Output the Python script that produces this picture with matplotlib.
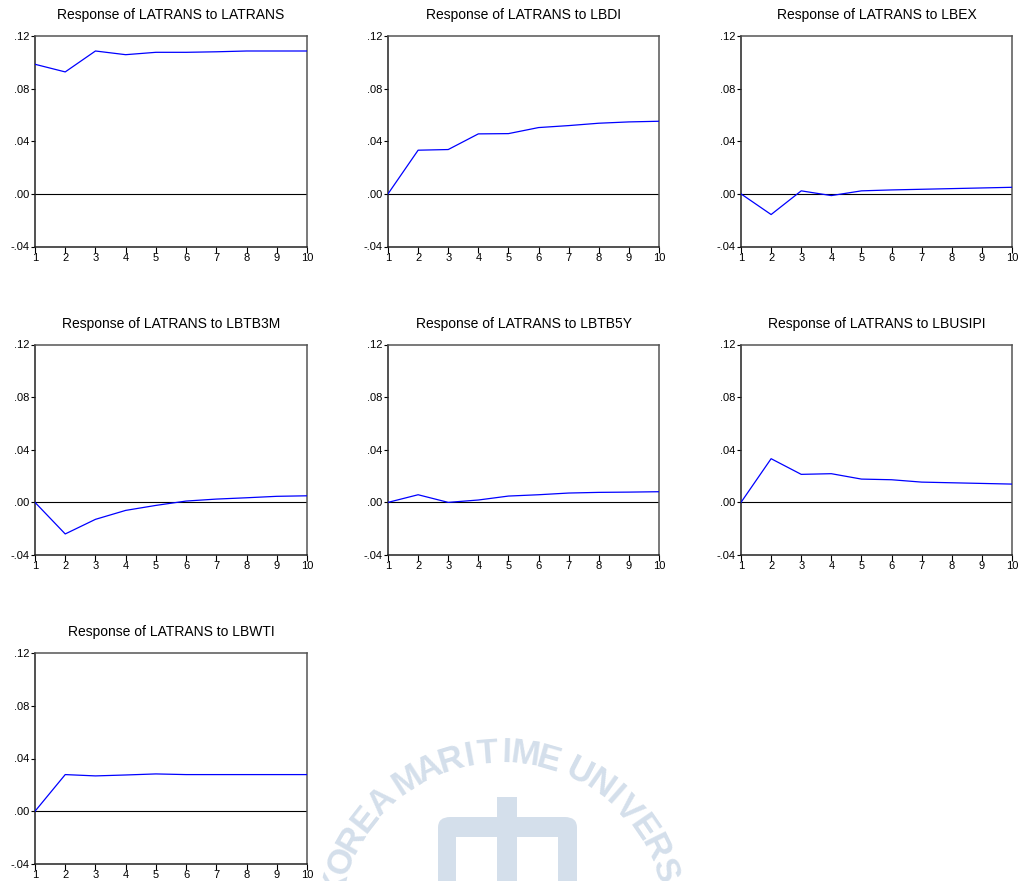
import numpy as np
import matplotlib
matplotlib.use('Agg')
import matplotlib.pyplot as plt
from matplotlib.patches import FancyBboxPatch, Rectangle

plt.rcParams['font.family'] = ['Liberation Sans', 'DejaVu Sans']

# impulse responses of LATRANS, periods 1..10
periods = np.arange(1, 11)
shocks = ["LATRANS", "LBDI", "LBEX", "LBTB3M", "LBTB5Y", "LBUSIPI", "LBWTI"]
resp_latrans = [0.0985, 0.0927, 0.1086, 0.1058, 0.1076, 0.1076, 0.1080, 0.1086, 0.1086, 0.1086]
resp_lbdi = [0.0, 0.0332, 0.0337, 0.0456, 0.0458, 0.0504, 0.0519, 0.0537, 0.0547, 0.0552]
resp_lbex = [0.0, -0.0157, 0.0023, -0.0013, 0.0023, 0.0030, 0.0035, 0.0040, 0.0045, 0.0050]
resp_lbtb3m = [0.0, -0.0240, -0.0129, -0.0061, -0.0023, 0.0010, 0.0025, 0.0035, 0.0046, 0.0050]
resp_lbtb5y = [0.0, 0.0058, 0.0, 0.0018, 0.0048, 0.0058, 0.0071, 0.0076, 0.0078, 0.0081]
resp_lbusipi = [0.0, 0.0332, 0.0213, 0.0218, 0.0177, 0.0172, 0.0154, 0.0149, 0.0144, 0.0139]
resp_lbwti = [0.0, 0.0278, 0.0268, 0.0275, 0.0283, 0.0278, 0.0278, 0.0278, 0.0278, 0.0278]
responses = [resp_latrans, resp_lbdi, resp_lbex, resp_lbtb3m, resp_lbtb5y, resp_lbusipi, resp_lbwti]

y_ticks = [-0.04, 0.0, 0.04, 0.08, 0.12]
y_ticklabels = ["-.04", ".00", ".04", ".08", ".12"]

W, H = 1021, 881
fig = plt.figure(figsize=(W / 100, H / 100), dpi=100, facecolor='white')

# --- watermark: arc lettering and emblem in pale blue ---
wm_color = '#d4dfeb'
wm_text = "KOREA MARITIME UNIVERSITY"
cx, cy, r = 501, 925, 172
unit = 8.0   # degrees of arc per normal letter
widths = {'I': 0.55, ' ': 0.4}
ang_pos = 158.0 + unit * 1.0   # centre of 'K'
prev_w = None
for ch in wm_text:
    w = widths.get(ch, 1.0)
    if prev_w is not None:
        ang_pos -= unit * (prev_w + w) / 2
    prev_w = w
    if ch == ' ':
        continue
    a = np.deg2rad(ang_pos)
    x = cx + r * np.cos(a)
    y = cy - r * np.sin(a)
    if y > H + 5:
        continue
    fig.text(x / W, 1 - y / H, ch, fontsize=25, fontweight='bold',
             color=wm_color, ha='center', va='center',
             rotation=ang_pos - 90, rotation_mode='anchor', zorder=0)

def px_rect(x0, y0, x1, y1, **kw):
    return Rectangle((x0 / W, 1 - y1 / H), (x1 - x0) / W, (y1 - y0) / H,
                     transform=fig.transFigure, **kw)

fig.patches.append(FancyBboxPatch((438 / W, 1 - 900 / H), 139 / W, 83 / H,
                                  boxstyle="round,pad=0,rounding_size=0.012",
                                  transform=fig.transFigure, facecolor=wm_color,
                                  edgecolor='none', zorder=0))
fig.patches.append(px_rect(497, 797, 517, 820, facecolor=wm_color, edgecolor='none', zorder=0))
fig.patches.append(px_rect(456, 837, 497, 890, facecolor='white', edgecolor='none', zorder=0))
fig.patches.append(px_rect(517, 837, 558, 890, facecolor='white', edgecolor='none', zorder=0))

# panel boxes in pixels: left, top, right, bottom
lefts = [35, 388, 741]
rights = [307, 659, 1012]
tops = [36, 344.5, 653]
bottoms = [246.5, 555, 864]

for k, (name, vals) in enumerate(zip(shocks, responses)):
    row, col = divmod(k, 3)
    l, rr = lefts[col], rights[col]
    t, b = tops[row], bottoms[row]
    ax = fig.add_axes([l / W, 1 - b / H, (rr - l) / W, (b - t) / H])
    ax.set_facecolor('none')
    ax.plot(periods, vals, color='#0000ff', lw=0.9, zorder=3)
    ax.axhline(0, color='black', lw=0.8, zorder=2)
    ax.set_xlim(1, 10)
    ax.set_ylim(-0.04, 0.12)
    ax.set_xticks(periods)
    ax.set_yticks(y_ticks)
    ax.set_yticklabels(y_ticklabels)
    ax.tick_params(axis='both', direction='out', labelsize=8, colors='black',
                   width=0.8, pad=1)
    ax.tick_params(axis='x', length=4, pad=0.5)
    ax.tick_params(axis='y', length=3)
    for side in ['top', 'right']:
        ax.spines[side].set_color('#555555')
        ax.spines[side].set_linewidth(1.1)
    for side in ['left', 'bottom']:
        ax.spines[side].set_color('#222222')
        ax.spines[side].set_linewidth(1.1)
    ax.set_title(f"Response of LATRANS to {name}", fontsize=10, pad=12)

fig.savefig('out.png', dpi=100, facecolor='white')
